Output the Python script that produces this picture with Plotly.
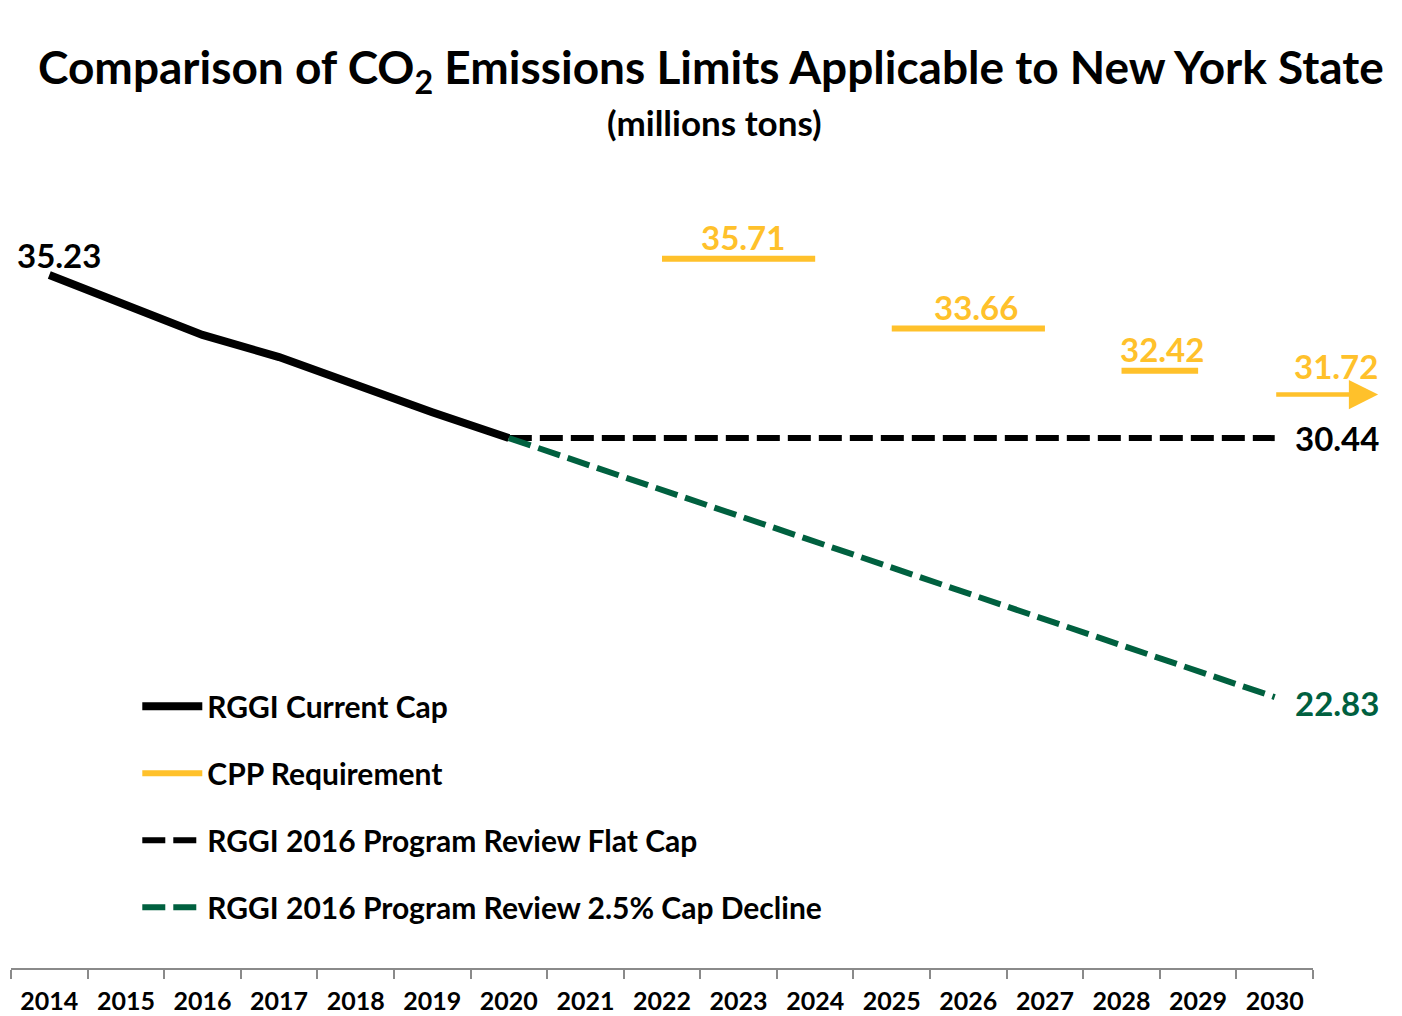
import plotly.graph_objects as go

years = [str(y) for y in range(2014, 2031)]

# RGGI current cap (2014-2020)
rggi_years = ["2014", "2015", "2016", "2017", "2018", "2019", "2020"]
rggi_values = [35.23, 34.35, 33.47, 32.82, 32.00, 31.20, 30.44]

# CPP requirement (step segments; None separates periods)
cpp_years = ["2022", "2023", "2024", "2024", "2025", "2026", "2027", "2027", "2028", "2029", "2029", "2030"]
cpp_values = [35.71, 35.71, 35.71, None, 33.66, 33.66, 33.66, None, 32.42, 32.42, None, 31.72]

# RGGI 2016 Program Review flat cap
flat_years = ["2020", "2021", "2022", "2023", "2024", "2025", "2026", "2027", "2028", "2029", "2030"]
flat_values = [30.44] * 11

# RGGI 2016 Program Review 2.5% cap decline
decl_years = flat_years
decl_values = [30.44, 29.68, 28.92, 28.16, 27.40, 26.64, 25.87, 25.11, 24.35, 23.59, 22.83]

BLACK = "#000000"
YELLOW = "#FFC12B"
GREEN = "#00603F"
FONT = "Lato"
DASH = "23px,8px"

fig = go.Figure()
fig.add_trace(go.Scatter(x=rggi_years, y=rggi_values, mode="lines", name="RGGI Current Cap",
                         line=dict(color=BLACK, width=8), legendgroup="a"))
fig.add_trace(go.Scatter(x=cpp_years, y=cpp_values, mode="lines", name="CPP Requirement",
                         line=dict(color=YELLOW, width=6), connectgaps=False, legendgroup="b"))
fig.add_trace(go.Scatter(x=flat_years, y=flat_values, mode="lines", name="RGGI 2016 Program Review Flat Cap",
                         line=dict(color=BLACK, width=6, dash=DASH), legendgroup="c"))
fig.add_trace(go.Scatter(x=decl_years, y=decl_values, mode="lines", name="RGGI 2016 Program Review 2.5% Cap Decline",
                         line=dict(color=GREEN, width=6, dash=DASH), legendgroup="d"))

idx = {y: i for i, y in enumerate(years)}
LBL = 33
ann = []
# 35.23 label
ann.append(dict(x=idx[rggi_years[0]], y=rggi_values[0], text=f"{rggi_values[0]:.2f}", showarrow=False,
                xanchor="center", yanchor="bottom", xshift=10, yshift=-2,
                font=dict(size=LBL, color=BLACK, family=FONT)))
# CPP labels
ann.append(dict(x=idx["2023"], y=35.71, text=f"{35.71:.2f}", showarrow=False, yanchor="bottom", yshift=0,
                xshift=4, font=dict(size=LBL, color=YELLOW, family=FONT)))
ann.append(dict(x=idx["2026"], y=33.66, text=f"{33.66:.2f}", showarrow=False, yanchor="bottom", yshift=-1,
                xshift=8, font=dict(size=LBL, color=YELLOW, family=FONT)))
ann.append(dict(x=(idx["2028"] + idx["2029"]) / 2, y=32.42, text=f"{32.42:.2f}", showarrow=False,
                yanchor="bottom", yshift=0, xshift=2, font=dict(size=LBL, color=YELLOW, family=FONT)))
# arrow for 2030 CPP
ann.append(dict(x=idx["2030"] + 1.35, y=cpp_values[-1], ax=idx["2030"], ay=cpp_values[-1],
                xref="x", yref="y", axref="x", ayref="y", text="", showarrow=True,
                arrowhead=2, arrowsize=1.3, arrowwidth=4.5, arrowcolor=YELLOW, standoff=0))
ann.append(dict(x=idx["2030"], y=cpp_values[-1], text=f"{cpp_values[-1]:.2f}", showarrow=False,
                yanchor="bottom", xshift=61, yshift=7, font=dict(size=LBL, color=YELLOW, family=FONT)))
# end labels
ann.append(dict(x=idx["2030"], y=flat_values[-1], text=f"{flat_values[-1]:.2f}", showarrow=False,
                xanchor="left", xshift=18, font=dict(size=LBL, color=BLACK, family=FONT)))
ann.append(dict(x=idx["2030"], y=decl_values[-1], text=f"{decl_values[-1]:.2f}", showarrow=False,
                xanchor="left", xshift=18, yshift=-6, font=dict(size=LBL, color=GREEN, family=FONT)))
for a in ann:
    if a["text"]:
        a["text"] = "<b>" + a["text"] + "</b>"
# title
ann.append(dict(xref="paper", yref="paper", x=(711 - 11) / 1302, y=1, yshift=90, xanchor="center",
                yanchor="middle", showarrow=False,
                text="<b>Comparison of CO<sub>2</sub> Emissions Limits Applicable to New York State</b>",
                font=dict(size=46, color=BLACK, family=FONT)))
ann.append(dict(xref="paper", yref="paper", x=(714 - 11) / 1302, y=1, yshift=38, xanchor="center",
                yanchor="middle", showarrow=False, text="<b>(millions tons)</b>",
                font=dict(size=35, color=BLACK, family=FONT)))
fig.update_layout(annotations=ann)

# page body has an 8px margin; compensate so the plot area sits at x 11..1313, y 160..968
fig.update_layout(
    width=1394, height=1008,
    margin=dict(l=3, r=89, t=152, b=48, autoexpand=False),
    paper_bgcolor="white", plot_bgcolor="white",
    font=dict(family=FONT, color=BLACK),
    showlegend=True,
    legend=dict(x=0.097, y=0.356, xanchor="left", yanchor="top", bgcolor="rgba(0,0,0,0)",
                font=dict(size=30, family=FONT, color=BLACK), itemwidth=60,
                tracegroupgap=25, traceorder="grouped"),
    xaxis=dict(type="category", categoryorder="array", categoryarray=years, range=[-0.5, 16.5],
               automargin=False,
               showgrid=False, zeroline=False, showline=True, linecolor="#8a8a8a", linewidth=1.5,
               ticks="outside", tickson="boundaries", ticklen=9, tickcolor="#8a8a8a", tickwidth=1.5,
               ticklabelstandoff=10,
               tickfont=dict(size=25, family=FONT, color=BLACK), tickprefix="<b>", ticksuffix="</b>"),
    yaxis=dict(range=[14.87, 38.61], visible=False, showgrid=False, zeroline=False, automargin=False),
)
for tr in fig.data:
    tr.name = "<b>" + tr.name + "</b>"

fig.write_html("out.html")
